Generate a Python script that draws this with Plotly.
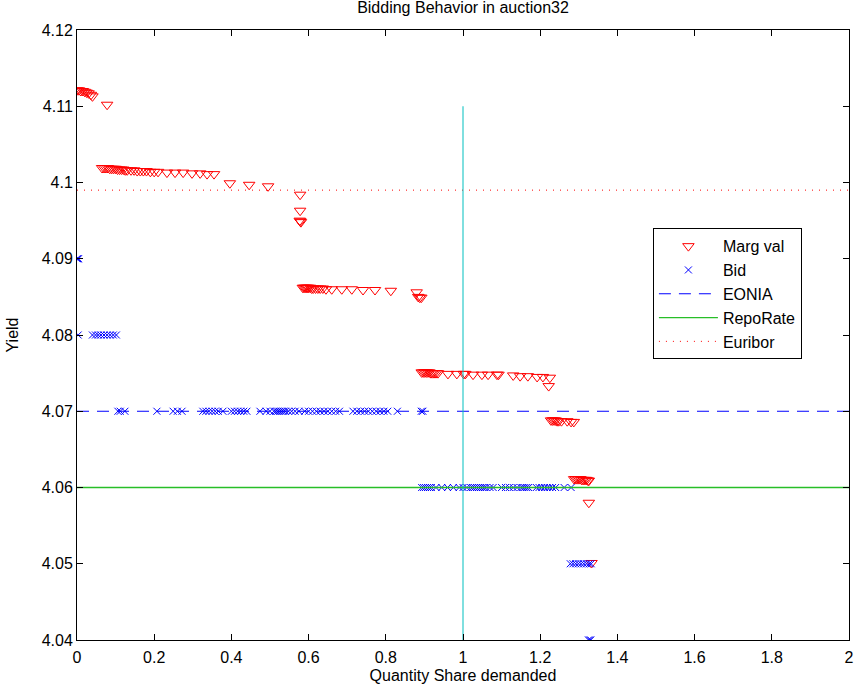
import plotly.graph_objects as go

# ---------------- axes ----------------
x_range = [0, 2]
y_range = [4.04, 4.12]
x_tickvals = [0, 0.2, 0.4, 0.6, 0.8, 1.0, 1.2, 1.4, 1.6, 1.8, 2.0]
x_ticktext = ["0", "0.2", "0.4", "0.6", "0.8", "1", "1.2", "1.4", "1.6", "1.8", "2"]
y_tickvals = [4.04, 4.05, 4.06, 4.07, 4.08, 4.09, 4.10, 4.11, 4.12]
y_ticktext = ["4.04", "4.05", "4.06", "4.07", "4.08", "4.09", "4.1", "4.11", "4.12"]

# ---------------- bids (blue x) ----------------
bid_x_409 = [0.000, 0.002, 0.004]
bid_x_408 = [0.003, 0.040, 0.048, 0.055, 0.062, 0.070, 0.078, 0.086, 0.094, 0.102]
bid_x_407 = [0.106, 0.112, 0.124, 0.207, 0.249, 0.260, 0.272, 0.326, 0.334, 0.342,
             0.350, 0.358, 0.366, 0.378, 0.400, 0.408, 0.416, 0.424, 0.432, 0.440,
             0.474, 0.490, 0.500, 0.510, 0.515, 0.520, 0.525, 0.530, 0.535, 0.540,
             0.548, 0.556, 0.565, 0.575, 0.590, 0.600, 0.610, 0.620, 0.630, 0.640,
             0.650, 0.660, 0.670, 0.680, 0.715, 0.725, 0.735, 0.745, 0.755, 0.765,
             0.775, 0.785, 0.795, 0.805, 0.830, 0.892, 0.896]
bid_x_406 = [0.893, 0.898, 0.903, 0.908, 0.913, 0.918, 0.930, 0.945, 0.960, 0.975,
             0.990, 1.000, 1.010, 1.020, 1.025, 1.030, 1.035, 1.040, 1.045, 1.050,
             1.055, 1.060, 1.070, 1.078, 1.100, 1.110, 1.120, 1.130, 1.140, 1.150,
             1.155, 1.160, 1.165, 1.170, 1.190, 1.197, 1.204, 1.211, 1.218, 1.225,
             1.232, 1.240, 1.262, 1.280]
bid_x_405 = [1.278, 1.285, 1.292, 1.299, 1.306, 1.313, 1.320, 1.327, 1.332]
bid_x_404 = [1.325, 1.328, 1.331]

# ---------------- marginal values (red triangles) ----------------
margval_x = [
    0.000, 0.005, 0.010, 0.015, 0.020, 0.025, 0.030, 0.036, 0.040, 0.078,
    0.065, 0.070, 0.075, 0.080, 0.085, 0.090, 0.095, 0.100, 0.105, 0.110,
    0.115, 0.120, 0.125, 0.130, 0.140, 0.148, 0.156, 0.164, 0.172, 0.180,
    0.190, 0.200, 0.210, 0.233, 0.254, 0.275, 0.298, 0.319, 0.337, 0.355,
    0.396, 0.446, 0.495, 0.578, 0.578, 0.577, 0.579, 0.580,
    0.585, 0.588, 0.591, 0.594, 0.597, 0.600, 0.604, 0.608, 0.612, 0.618,
    0.624, 0.630, 0.637, 0.645, 0.660, 0.686, 0.712, 0.741, 0.772, 0.813,
    0.880, 0.884, 0.888, 0.892,
    0.893, 0.897, 0.901, 0.905, 0.909, 0.913, 0.917, 0.921, 0.925, 0.930,
    0.935, 0.961, 0.984, 1.002, 1.006, 1.026, 1.049, 1.065, 1.088, 1.092,
    1.130, 1.148, 1.168, 1.192, 1.207, 1.225, 1.222,
    1.228, 1.232, 1.236, 1.240, 1.244, 1.248, 1.255, 1.270, 1.280, 1.287,
    1.288, 1.292, 1.296, 1.300, 1.304, 1.308, 1.312, 1.316, 1.320, 1.324,
    1.326, 1.326, 1.333,
]
margval_y = [
    4.1121, 4.1121, 4.1120, 4.1120, 4.1119, 4.1118, 4.1117, 4.1115, 4.1113, 4.1102,
    4.1019, 4.1019, 4.1019, 4.1019, 4.1018, 4.1018, 4.1018, 4.1018, 4.1017, 4.1017,
    4.1017, 4.1017, 4.1016, 4.1016, 4.1016, 4.1016, 4.1015, 4.1015, 4.1015, 4.1015,
    4.1014, 4.1014, 4.1014, 4.1013, 4.1013, 4.1013, 4.1012, 4.1012, 4.1011, 4.1011,
    4.0999, 4.0997, 4.0995, 4.0984, 4.0963, 4.0950, 4.0949, 4.0948,
    4.0862, 4.0862, 4.0862, 4.0862, 4.0862, 4.0862, 4.0862, 4.0861, 4.0861, 4.0861,
    4.0861, 4.0861, 4.0861, 4.0860, 4.0860, 4.0860, 4.0860, 4.0859, 4.0859, 4.0858,
    4.0856, 4.0850, 4.0849, 4.0849,
    4.0751, 4.0751, 4.0751, 4.0751, 4.0751, 4.0751, 4.0750, 4.0750, 4.0750, 4.0750,
    4.0750, 4.0749, 4.0749, 4.0749, 4.0749, 4.0748, 4.0748, 4.0748, 4.0748, 4.0748,
    4.0747, 4.0746, 4.0746, 4.0745, 4.0745, 4.0744, 4.0733,
    4.0688, 4.0688, 4.0688, 4.0688, 4.0687, 4.0687, 4.0687, 4.0687, 4.0686, 4.0686,
    4.0611, 4.0611, 4.0611, 4.0611, 4.0611, 4.0610, 4.0610, 4.0610, 4.0610, 4.0609,
    4.0609, 4.0580, 4.0501,
]

# ---------------- reference rates ----------------
eonia_rate = 4.07
repo_rate = 4.06
euribor_rate = 4.099
share_one_x = [1.0, 1.0]
share_one_y = [4.04, 4.11]

bid_x = bid_x_409 + bid_x_408 + bid_x_407 + bid_x_406 + bid_x_405 + bid_x_404
bid_y = ([4.09] * len(bid_x_409) + [4.08] * len(bid_x_408) + [4.07] * len(bid_x_407)
         + [4.06] * len(bid_x_406) + [4.05] * len(bid_x_405) + [4.04] * len(bid_x_404))

FONT = "Liberation Sans, Arial, Helvetica, sans-serif"
FS = 16

fig = go.Figure()
fig.add_trace(go.Scatter(
    x=margval_x, y=margval_y, mode="markers", name="Marg val",
    marker=dict(symbol="triangle-down-open", size=10, color="#ff0000",
                line=dict(width=1, color="#ff0000")),
))
fig.add_trace(go.Scatter(
    x=bid_x, y=bid_y, mode="markers", name="Bid",
    marker=dict(symbol="x-thin-open", size=7, color="#0000ff",
                line=dict(width=1, color="#0000ff")),
))
fig.add_trace(go.Scatter(
    x=x_range, y=[eonia_rate, eonia_rate], mode="lines", name="EONIA",
    line=dict(color="#0000ff", width=1, dash="12px,8px"),
))
fig.add_trace(go.Scatter(
    x=x_range, y=[repo_rate, repo_rate], mode="lines", name="RepoRate",
    line=dict(color="rgb(40,190,40)", width=1.3),
))
fig.add_trace(go.Scatter(
    x=x_range, y=[euribor_rate, euribor_rate], mode="lines", name="Euribor",
    line=dict(color="#ff0000", width=1, dash="1px,6px"),
))
fig.add_trace(go.Scatter(
    x=share_one_x, y=share_one_y, mode="lines", showlegend=False,
    line=dict(color="#00bfbf", width=1),
))

axis_common = dict(
    showgrid=False, zeroline=False, showline=True, linecolor="black", linewidth=1,
    mirror="allticks", ticks="inside", ticklen=6, tickcolor="black", tickwidth=1,
    tickfont=dict(family=FONT, size=FS, color="black"),
)

fig.update_layout(
    width=859, height=689,
    margin=dict(l=77, r=10, t=30, b=49, autoexpand=False),
    paper_bgcolor="white", plot_bgcolor="white",
    font=dict(family=FONT, size=FS, color="black"),
    title=dict(text="Bidding Behavior in auction32", x=0.5, xanchor="center",
               xref="paper", y=1.0, yref="container", yanchor="top",
               pad=dict(t=2), font=dict(family=FONT, size=FS)),
    xaxis=dict(range=x_range, tickvals=x_tickvals, ticktext=x_ticktext,
               ticklabelstandoff=3,
               title=dict(text="Quantity Share demanded", standoff=4,
                          font=dict(family=FONT, size=FS)),
               **axis_common),
    yaxis=dict(range=y_range, tickvals=y_tickvals, ticktext=y_ticktext,
               title=dict(text="Yield", standoff=19, font=dict(family=FONT, size=FS)),
               **axis_common),
    legend=dict(x=0.746, y=0.675, xanchor="left", yanchor="top",
                bgcolor="white", bordercolor="black", borderwidth=1,
                font=dict(family=FONT, size=FS), itemwidth=59,
                tracegroupgap=0),
    showlegend=True,
)

fig.write_html("out.html", config={"displayModeBar": False},
               post_script="document.body.style.margin='0';")
